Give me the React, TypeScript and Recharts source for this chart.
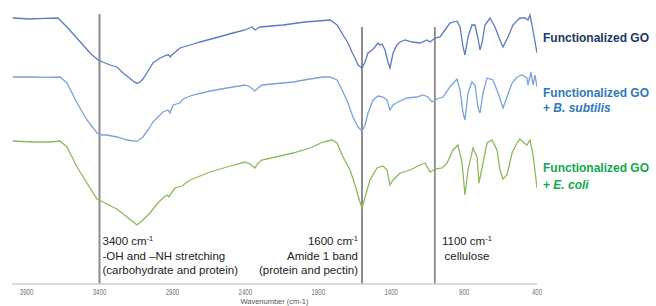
import React from "react";
import { LineChart, Line, XAxis, YAxis, ReferenceLine } from "recharts";

// Wavenumber (cm-1) and offset transmittance (a.u.) for each spectrum
const goWn = [3995, 3877, 3774, 3685, 3623, 3568, 3513, 3465, 3410, 3328, 3280, 3239, 3211, 3170, 3143, 3122, 3102, 3067, 3033, 2985, 2937, 2923, 2917, 2903, 2848, 2779, 2711, 2608, 2485, 2402, 2354, 2334, 2313, 2299, 2142, 1991, 1819, 1771, 1730, 1696, 1669, 1648, 1627, 1600, 1579, 1559, 1531, 1511, 1490, 1477, 1463, 1442, 1422, 1408, 1387, 1360, 1339, 1305, 1257, 1202, 1154, 1133, 1099, 1065, 1031, 997, 969, 949, 928, 907, 894, 873, 846, 825, 805, 791, 777, 757, 722, 688, 654, 633, 599, 565, 517, 482, 462, 448, 434, 400];
const goT = [133, 132.5, 132.8, 133, 128.5, 124, 119.5, 115.5, 112, 109.5, 108.5, 105.5, 104, 101.5, 100.3, 101, 102.5, 106.5, 110.5, 113, 114.5, 114.5, 113.5, 114.5, 118, 119.5, 121, 123, 125.5, 127, 128.5, 127, 128, 128.5, 129.5, 131, 132, 129.5, 124.5, 120.5, 116, 113, 109.5, 108, 111, 115.5, 117, 118.5, 120.5, 119.5, 120, 117, 111, 108, 115.5, 119.5, 121, 122, 121, 120.5, 122, 121, 123, 123.5, 127, 130.5, 131, 131.5, 128.5, 118.5, 114.5, 123.5, 129.5, 129.5, 123, 117, 120.5, 129.5, 133, 128.5, 122, 118.5, 123.5, 129.5, 133, 133, 132, 134.5, 129.5, 115.5];

const bsWn = [3995, 3856, 3774, 3671, 3623, 3554, 3486, 3417, 3383, 3349, 3280, 3211, 3143, 3102, 3067, 3033, 2999, 2965, 2930, 2917, 2896, 2848, 2827, 2759, 2642, 2526, 2402, 2368, 2334, 2313, 2286, 2073, 1957, 1867, 1819, 1771, 1730, 1696, 1662, 1627, 1600, 1579, 1559, 1524, 1490, 1456, 1429, 1408, 1387, 1353, 1291, 1223, 1182, 1147, 1120, 1086, 1045, 997, 949, 928, 907, 894, 873, 846, 825, 805, 791, 770, 743, 702, 667, 633, 606, 571, 537, 503, 469, 462, 441, 427, 414, 400];
const bsT = [103.5, 103.5, 103.3, 103.5, 100.5, 90.5, 82, 75.5, 74.5, 74.5, 73.5, 72, 71.3, 73.5, 77, 81, 83.5, 86, 87, 85.5, 89.5, 90.5, 92.5, 94.5, 96.5, 98, 99.5, 98.5, 96.5, 98, 99.5, 101, 102.5, 103.5, 103.5, 102, 96, 90.5, 83.5, 78.5, 76.5, 79.5, 85.5, 92, 94, 93.5, 92, 87, 89.5, 91, 93, 93.5, 94.5, 93.5, 91, 92.5, 93.5, 98.5, 102.5, 97, 85.5, 82, 95.5, 101, 99.5, 88.5, 85.5, 95.5, 103, 102, 95.5, 88, 93.5, 100.5, 103.5, 104.5, 103, 99.5, 106, 99.5, 104.5, 98.5];

const ecWn = [3995, 3856, 3739, 3671, 3623, 3554, 3486, 3417, 3349, 3280, 3211, 3143, 3102, 3054, 3006, 2965, 2937, 2923, 2917, 2882, 2834, 2779, 2642, 2526, 2402, 2368, 2334, 2313, 2286, 2073, 1957, 1867, 1806, 1771, 1730, 1682, 1648, 1614, 1600, 1579, 1545, 1497, 1456, 1429, 1408, 1387, 1339, 1271, 1202, 1168, 1133, 1099, 1051, 1017, 976, 942, 914, 894, 873, 839, 811, 798, 770, 743, 709, 674, 654, 633, 606, 571, 537, 517, 496, 469, 448, 427, 400];
const ecT = [71.5, 71, 71, 71.5, 68.5, 58.5, 50.5, 42.5, 40, 37.5, 33.5, 29.5, 32, 35.5, 40, 43, 44.5, 43.5, 44.5, 48, 49, 52, 56, 58.5, 61, 60, 58, 60.5, 62, 65.5, 68, 71, 72, 70.5, 63.5, 57, 49.5, 41, 38, 43.5, 52, 58, 59, 57, 49.5, 52, 55.5, 57, 59.5, 60.5, 56, 57.5, 58, 60.5, 67, 69.5, 60.5, 44.5, 57, 68, 63.5, 50.5, 60.5, 70.5, 72, 67, 57, 52.5, 54.5, 65.5, 70.5, 72.5, 71, 69.5, 72, 64.5, 48];

const tickValues = [3900, 3400, 2900, 2400, 1900, 1400, 900, 400];

const zip = (wn: number[], t: number[]) => wn.map((w, i) => ({ wn: w, t: t[i] }));
const goData = zip(goWn, goT);
const bsData = zip(bsWn, bsT);
const ecData = zip(ecWn, ecT);

const FONT = "'Liberation Sans', Arial, sans-serif";
const annoStyle = { fontFamily: FONT, fontSize: 11.5, fill: "#222" };

const sup = (txt: string) => (
  <tspan dy={-4.5} fontSize={7.5}>{txt}</tspan>
);

const label3400 = (props: any) => {
  const x = props.viewBox.x + 3;
  return (
    <g>
      <text x={x} y={245} {...annoStyle}>3400 cm{sup("-1")}</text>
      <text x={x} y={259.5} {...annoStyle}>-OH and –NH stretching</text>
      <text x={x} y={274} {...annoStyle}>(carbohydrate and protein)</text>
    </g>
  );
};

const label1600 = (props: any) => {
  const x = props.viewBox.x - 4;
  return (
    <g>
      <text x={x - 6} y={245} textAnchor="end" {...annoStyle}>1600 cm</text>
      <text x={x} y={240.5} textAnchor="end" {...annoStyle} fontSize={7.5}>-1</text>
      <text x={x} y={259.5} textAnchor="end" {...annoStyle}>Amide 1 band</text>
      <text x={x} y={274} textAnchor="end" {...annoStyle}>(protein and pectin)</text>
    </g>
  );
};

const label1100 = (props: any) => {
  const x = props.viewBox.x + 32;
  return (
    <g>
      <text x={x} y={245} textAnchor="middle" {...annoStyle}>1100 cm{sup("-1")}</text>
      <text x={x} y={259.5} textAnchor="middle" {...annoStyle}>cellulose</text>
    </g>
  );
};

const NarrowTick = (props: any) => {
  const { x, y, payload } = props;
  return (
    <text
      transform={`translate(${x},${y + 8}) scale(0.72,1)`}
      textAnchor="middle"
      fontFamily={FONT}
      fontSize={8.5}
      fill="#777"
    >
      {payload.value}
    </text>
  );
};

const legendStyle = { fontFamily: FONT, fontSize: 12, fontWeight: 700 };

export default function App() {
  return (
    <div style={{ position: "absolute", left: 0, top: 0, width: 656, height: 306, background: "#fff" }}>
      <LineChart width={656} height={306} data={goData} margin={{ top: 4, right: 119, bottom: 0, left: 12 }}>
        <XAxis
          dataKey="wn"
          type="number"
          domain={[400, 4000]}
          reversed
          ticks={tickValues}
          height={22}
          tickLine={false}
          tickSize={0}
          tickMargin={3}
          axisLine={{ stroke: "#d0d0d0", strokeWidth: 1.5 }}
          tick={<NarrowTick />}
          label={{ value: "Wavenumber (cm-1)", position: "insideBottom", offset: 2, style: { fontFamily: FONT, fontSize: 7.5, fill: "#555" } }}
          allowDataOverflow
        />
        <YAxis hide domain={[0, 140]} type="number" />
        <ReferenceLine segment={[{ x: 3400, y: 135 }, { x: 3400, y: 0 }]} stroke="#8c8c8c" strokeWidth={2} ifOverflow="visible" label={label3400} />
        <ReferenceLine segment={[{ x: 1600, y: 128.5 }, { x: 1600, y: 0 }]} stroke="#8c8c8c" strokeWidth={2} ifOverflow="visible" label={label1600} />
        <ReferenceLine segment={[{ x: 1100, y: 128.5 }, { x: 1100, y: 0 }]} stroke="#333" strokeWidth={1} ifOverflow="visible" label={label1100} />
        <Line data={goData} dataKey="t" stroke="#5b7cc0" strokeWidth={1.3} dot={false} isAnimationActive={false} />
        <Line data={bsData} dataKey="t" stroke="#7aa3d9" strokeWidth={1.3} dot={false} isAnimationActive={false} />
        <Line data={ecData} dataKey="t" stroke="#8cb95c" strokeWidth={1.3} dot={false} isAnimationActive={false} />
      </LineChart>
      <svg width={656} height={306} style={{ position: "absolute", left: 0, top: 0, pointerEvents: "none" }}>
        <text x={543} y={41.5} fill="#203864" {...legendStyle}>Functionalized GO</text>
        <text x={543} y={96.5} fill="#2e78bd" {...legendStyle}>Functionalized GO</text>
        <text x={543} y={111.5} fill="#2e78bd" {...legendStyle}>+ <tspan fontStyle="italic">B. subtilis</tspan></text>
        <text x={543} y={172.3} fill="#13a84e" {...legendStyle}>Functionalized GO</text>
        <text x={543} y={189} fill="#13a84e" {...legendStyle}>+ <tspan fontStyle="italic">E. coli</tspan></text>
      </svg>
    </div>
  );
}
